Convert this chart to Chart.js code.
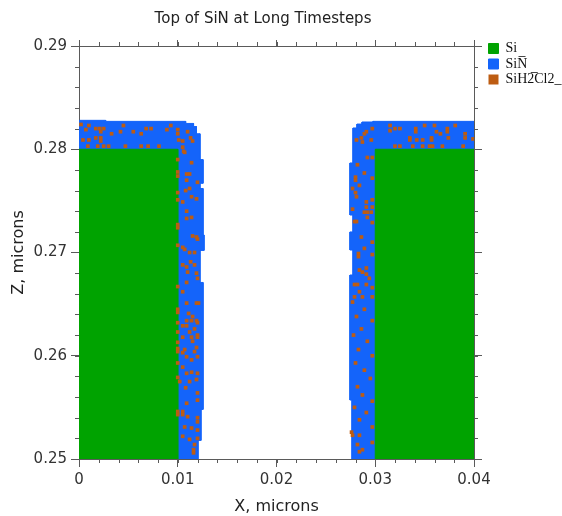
<!DOCTYPE html>
<html>
<head>
<meta charset="utf-8">
<script src="https://cdn.jsdelivr.net/npm/chart.js@4.4.1/dist/chart.umd.min.js"></script>
<style>
  html, body { margin: 0; padding: 0; background: #fff; }
  #wrap { width: 562px; height: 516px; }
</style>
</head>
<body>
<div id="wrap"><canvas id="chart"></canvas></div>
<script>
const titleText = 'Top of SiN at Long Timesteps';
const xTicks = [0, 0.01, 0.02, 0.03, 0.04];
const xTickLabels = ['0', '0.01', '0.02', '0.03', '0.04'];
const zTicks = [0.25, 0.26, 0.27, 0.28, 0.29];
const zTickLabels = ['0.25', '0.26', '0.27', '0.28', '0.29'];
const minorStep = 0.002;

const seriesNames = ['Si', 'SiN\u0305', 'SiH2\u0305Cl2_'];

// Si blocks, [x, z] corners
const siLeft = [[0, 0.25], [0, 0.28], [0.01, 0.28], [0.01, 0.25]];
const siRight = [[0.03, 0.25], [0.03, 0.28], [0.04, 0.28], [0.04, 0.25]];

// SiN layer outline (stepped edge of the cells)
const sinLeft = [
  [0, 0.25], [0, 0.2828], [0.0027, 0.2828], [0.0027, 0.2827], [0.0108, 0.2827], [0.0108, 0.2825],
  [0.0116, 0.2825], [0.0116, 0.2822], [0.0119, 0.2822], [0.0119, 0.2815], [0.01225, 0.2815],
  [0.01225, 0.2790], [0.01256, 0.2790], [0.01256, 0.2767], [0.01225, 0.2767], [0.01225, 0.2762],
  [0.01256, 0.2762], [0.01256, 0.2717], [0.01266, 0.2717], [0.01266, 0.2702], [0.01225, 0.2702],
  [0.01225, 0.2671], [0.01256, 0.2671], [0.01256, 0.2548], [0.01235, 0.2548], [0.01235, 0.2518],
  [0.01205, 0.2518], [0.01205, 0.25]
];
const sinRight = [
  [0.04, 0.25], [0.04, 0.2827], [0.02977, 0.2827], [0.02977, 0.28264], [0.02866, 0.28264],
  [0.02866, 0.28244], [0.02815, 0.28244], [0.02815, 0.28206], [0.02775, 0.28206], [0.02775, 0.27867],
  [0.02744, 0.27867], [0.02744, 0.27363], [0.02775, 0.27363], [0.02775, 0.27199], [0.02744, 0.27199],
  [0.02744, 0.27024], [0.02775, 0.27024], [0.02775, 0.26782], [0.02744, 0.26782], [0.02744, 0.25571],
  [0.02765, 0.25571], [0.02765, 0.25]
];

// SiH2Cl2 cells, [x, z]
const speckles = [
  // left top
  [0.0002, 0.2824], [0.0010, 0.2823], [0.0007, 0.2819], [0.0017, 0.2820], [0.0021, 0.2820], [0.0025, 0.2820],
  [0.0022, 0.2817], [0.0033, 0.2815], [0.0042, 0.2817], [0.0045, 0.2823], [0.0055, 0.2817], [0.0063, 0.2815],
  [0.0068, 0.2820], [0.0073, 0.2820], [0.0089, 0.2819], [0.0093, 0.2823], [0.0100, 0.2819], [0.0100, 0.2815],
  [0.0110, 0.2817], [0.0004, 0.2809], [0.0010, 0.2809], [0.0017, 0.2811], [0.0022, 0.2811], [0.0022, 0.2808],
  [0.0009, 0.2803], [0.0019, 0.2803], [0.0025, 0.2803], [0.0030, 0.2803], [0.0047, 0.2803], [0.0063, 0.2803],
  [0.0070, 0.2803], [0.0081, 0.2803], [0.0101, 0.2809], [0.0105, 0.2808], [0.0113, 0.2811], [0.0115, 0.2808],
  [0.0105, 0.2802], [0.0106, 0.2798],
  // right top
  [0.0297, 0.2820], [0.0315, 0.2823], [0.0315, 0.2818], [0.0320, 0.2820], [0.0325, 0.2820], [0.0341, 0.2820],
  [0.0341, 0.2817], [0.0350, 0.2823], [0.0360, 0.2823], [0.0362, 0.2817], [0.0366, 0.2815], [0.0373, 0.2820],
  [0.0373, 0.2817], [0.0381, 0.2823], [0.0391, 0.2815], [0.0391, 0.2811], [0.0291, 0.2817], [0.0289, 0.2815],
  [0.0286, 0.2811], [0.0281, 0.2809], [0.0287, 0.2807], [0.0296, 0.2809], [0.0335, 0.2811], [0.0335, 0.2809],
  [0.0342, 0.2809], [0.0348, 0.2809], [0.0357, 0.2811], [0.0357, 0.2809], [0.0374, 0.2811], [0.0320, 0.2803],
  [0.0325, 0.2803], [0.0338, 0.2803], [0.0348, 0.2803], [0.0355, 0.2803], [0.0358, 0.2803], [0.0368, 0.2803],
  [0.0389, 0.2803], [0.0399, 0.2810],
  // left wall
  [0.0107, 0.2797], [0.0114, 0.2787], [0.0100, 0.2790], [0.0100, 0.2778], [0.0100, 0.2774], [0.0109, 0.2776],
  [0.0112, 0.2776], [0.0109, 0.2770], [0.0120, 0.2768], [0.0112, 0.2762], [0.0108, 0.2760], [0.0100, 0.2758],
  [0.0114, 0.2754], [0.0119, 0.2752], [0.0105, 0.2749], [0.0100, 0.2751], [0.0109, 0.2740], [0.0109, 0.2733],
  [0.0114, 0.2734], [0.0100, 0.2727], [0.0100, 0.2724], [0.0115, 0.2716], [0.0119, 0.2715], [0.0120, 0.2713],
  [0.0100, 0.2707], [0.0105, 0.2705], [0.0107, 0.2703], [0.0112, 0.2700], [0.0117, 0.2700], [0.0113, 0.2691],
  [0.0105, 0.2688], [0.0109, 0.2686], [0.0117, 0.2688], [0.0110, 0.2681], [0.0119, 0.2680], [0.0120, 0.2675],
  [0.0109, 0.2671], [0.0100, 0.2667], [0.0105, 0.2662], [0.0119, 0.2651], [0.0121, 0.2651], [0.0109, 0.2651],
  [0.0100, 0.2645], [0.0100, 0.2642], [0.0111, 0.2641], [0.0115, 0.2638], [0.0109, 0.2634], [0.0114, 0.2634],
  [0.0119, 0.2634], [0.0120, 0.2632], [0.0100, 0.2632], [0.0105, 0.2629], [0.0109, 0.2629], [0.0117, 0.2626],
  [0.0100, 0.2623], [0.0112, 0.2623], [0.0114, 0.2618], [0.0115, 0.2614], [0.0120, 0.2620], [0.0120, 0.2618],
  [0.0105, 0.2618], [0.0100, 0.2613], [0.0119, 0.2608], [0.0100, 0.2607], [0.0100, 0.2604], [0.0107, 0.2606],
  [0.0117, 0.2604], [0.0105, 0.2603], [0.0109, 0.2599], [0.0120, 0.2599], [0.0114, 0.2596], [0.0100, 0.2593],
  [0.0105, 0.2589], [0.0114, 0.2584], [0.0109, 0.2583], [0.0120, 0.2583], [0.0100, 0.2579], [0.0102, 0.2575],
  [0.0112, 0.2575], [0.0119, 0.2577], [0.0108, 0.2569], [0.0120, 0.2564], [0.0120, 0.2557], [0.0109, 0.2554],
  [0.0100, 0.2546], [0.0100, 0.2543], [0.0105, 0.2546], [0.0105, 0.2543], [0.0110, 0.2541], [0.0120, 0.2540],
  [0.0120, 0.2536], [0.0107, 0.2531], [0.0114, 0.2530], [0.0120, 0.2528], [0.0105, 0.2522], [0.0112, 0.2519],
  [0.0120, 0.2520], [0.0117, 0.2514], [0.0116, 0.2509], [0.0116, 0.2506],
  // right wall
  [0.0292, 0.2792], [0.0297, 0.2792], [0.0282, 0.2785], [0.0289, 0.2777], [0.0280, 0.2773], [0.0280, 0.2770],
  [0.0297, 0.2772], [0.0284, 0.2765], [0.0277, 0.2762], [0.0280, 0.2758], [0.0281, 0.2754], [0.0291, 0.2749],
  [0.0297, 0.2751], [0.0291, 0.2744], [0.0277, 0.2742], [0.0289, 0.2739], [0.0292, 0.2739], [0.0296, 0.2739],
  [0.0297, 0.2744], [0.0292, 0.2734], [0.0279, 0.2730], [0.0281, 0.2730], [0.0297, 0.2729], [0.0286, 0.2715],
  [0.0297, 0.2710], [0.0289, 0.2704], [0.0283, 0.2699], [0.0283, 0.2696], [0.0297, 0.2698], [0.0291, 0.2685],
  [0.0284, 0.2683], [0.0287, 0.2681], [0.0291, 0.2679], [0.0294, 0.2675], [0.0279, 0.2669], [0.0282, 0.2669],
  [0.0291, 0.2669], [0.0284, 0.2662], [0.0279, 0.2657], [0.0287, 0.2657], [0.0297, 0.2666], [0.0297, 0.2657],
  [0.0277, 0.2652], [0.0289, 0.2645], [0.0281, 0.2638], [0.0297, 0.2634], [0.0286, 0.2626], [0.0278, 0.2620],
  [0.0292, 0.2614], [0.0283, 0.2606], [0.0297, 0.2600], [0.0280, 0.2593], [0.0289, 0.2586], [0.0295, 0.2578],
  [0.0282, 0.2570], [0.0287, 0.2562], [0.0297, 0.2556], [0.0279, 0.2550], [0.0291, 0.2545], [0.0284, 0.2538],
  [0.0297, 0.2531], [0.0276, 0.2526], [0.0277, 0.2523], [0.0282, 0.2514], [0.0287, 0.2509], [0.0284, 0.2507],
  [0.0297, 0.2516], [0.0284, 0.2523]
];

const green = '#00a300';
const blue = '#1464fa';
const brown = '#bd5c12';
const axisColor = '#5a5a5a';
const textColor = '#333';

const toXY = pts => pts.map(([x, z]) => ({ x: x, y: z }));

function shape(label, pts, color, order, hidden) {
  return {
    type: 'line', label: label, data: toXY(pts), order: order, hideInLegend: hidden,
    backgroundColor: color, borderColor: color, borderWidth: 1,
    fill: 'shape', tension: 0, pointRadius: 0, showLine: true
  };
}

const minorTicks = {
  id: 'minorTicks',
  afterDraw(chart) {
    const { ctx, chartArea: a, scales: { x, y } } = chart;
    ctx.save();
    ctx.strokeStyle = axisColor;
    ctx.lineWidth = 1;
    ctx.beginPath();
    for (let v = x.min + minorStep; v < x.max - 1e-9; v += minorStep) {
      const px = Math.round(x.getPixelForValue(v)) + 0.5;
      ctx.moveTo(px, a.bottom); ctx.lineTo(px, a.bottom + 4);
      ctx.moveTo(px, a.top); ctx.lineTo(px, a.top - 4);
    }
    for (let v = y.min + minorStep; v < y.max - 1e-9; v += minorStep) {
      const py = Math.round(y.getPixelForValue(v)) + 0.5;
      ctx.moveTo(a.left, py); ctx.lineTo(a.left - 4, py);
      ctx.moveTo(a.right, py); ctx.lineTo(a.right + 4, py);
    }
    ctx.stroke();
    ctx.restore();
  }
};

const plotTitle = {
  id: 'plotTitle',
  afterDraw(chart) {
    const ctx = chart.ctx;
    ctx.save();
    ctx.font = '15px "DejaVu Sans"';
    ctx.fillStyle = '#222';
    ctx.textAlign = 'center';
    ctx.textBaseline = 'middle';
    ctx.fillText(titleText, chart.width * 0.468, 19);
    ctx.restore();
  }
};

const tickFont = { family: 'DejaVu Sans', size: 15 };
const titleFont = { family: 'DejaVu Sans', size: 16 };

function axis(pos, ticks, labels, extra) {
  return Object.assign({
    type: 'linear', position: pos,
    min: ticks[0], max: ticks[ticks.length - 1],
    afterBuildTicks: s => { s.ticks = ticks.map(v => ({ value: v })); },
    grid: { drawOnChartArea: false, drawTicks: true, tickLength: 8, color: axisColor },
    border: { display: true, color: axisColor },
    ticks: {
      display: pos === 'bottom' || pos === 'left',
      font: tickFont, color: textColor, padding: 4,
      maxRotation: 0, autoSkip: false,
      callback: (v, i) => labels[i]
    }
  }, extra);
}

new Chart(document.getElementById('chart'), {
  type: 'scatter',
  data: {
    datasets: [
      shape(seriesNames[0], siLeft, green, 1, false),
      shape(seriesNames[0], siRight, green, 1, true),
      shape(seriesNames[1], sinLeft, blue, 2, false),
      shape(seriesNames[1], sinRight, blue, 2, true),
      {
        type: 'scatter', label: seriesNames[2], data: toXY(speckles), order: 0,
        backgroundColor: brown, borderWidth: 0, pointStyle: 'rect', pointRadius: 2.6
      }
    ]
  },
  options: {
    responsive: true,
    maintainAspectRatio: false,
    animation: false,
    events: [],
    layout: { padding: { top: 40, left: 0, right: 0, bottom: 0 } },
    scales: {
      x: axis('bottom', xTicks, xTickLabels, {
        afterFit: s => { s.height = 57; },
        title: { display: true, text: 'X, microns', font: titleFont, color: '#222', padding: { top: 0, bottom: 0 } }
      }),
      x2: axis('top', xTicks, xTickLabels, {
        afterFit: s => { s.height = 6; },
        grid: { drawOnChartArea: false, tickLength: 6, color: axisColor }
      }),
      y: axis('left', zTicks, zTickLabels, {
        afterFit: s => { s.width = 79; },
        title: { display: true, text: 'Z, microns', font: titleFont, color: '#222', padding: { top: 9, bottom: 0 } }
      }),
      y2: axis('right', zTicks, zTickLabels, {
        afterFit: s => { s.width = 13; }
      })
    },
    plugins: {
      tooltip: { enabled: false },
      legend: {
        position: 'right',
        align: 'start',
        maxWidth: 75,
        labels: {
          boxWidth: 10,
          boxHeight: 10,
          padding: 1.5,
          color: '#111',
          font: { family: 'Liberation Serif', size: 14 },
          filter: (item, data) => !data.datasets[item.datasetIndex].hideInLegend,
          sort: (a, b) => a.datasetIndex - b.datasetIndex
        }
      }
    }
  },
  plugins: [minorTicks, plotTitle]
});
</script>
</body>
</html>
